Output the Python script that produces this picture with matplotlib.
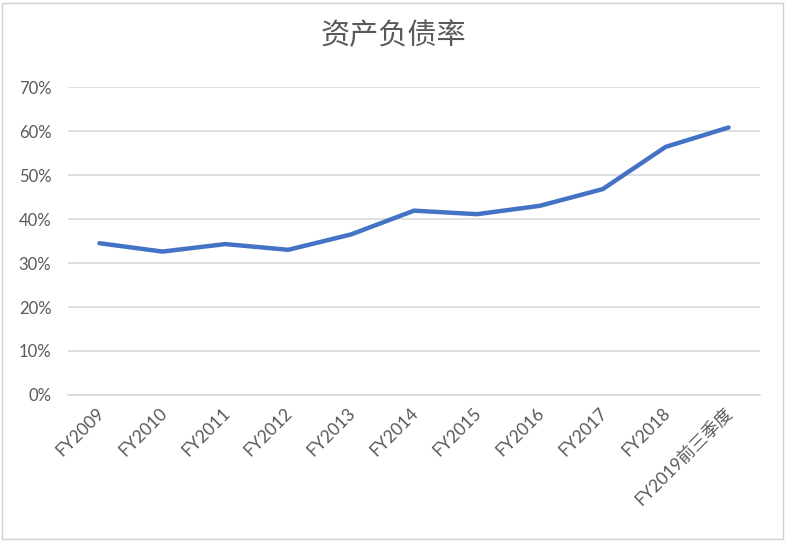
import matplotlib.pyplot as plt
from matplotlib.patches import Rectangle
from matplotlib.ticker import FuncFormatter
import matplotlib.transforms as mtransforms


plt.rcParams["font.family"] = ["Lato", "Noto Sans CJK SC", "DejaVu Sans"]

TITLE = "资产负债率"

periods = [
    "FY2009",
    "FY2010",
    "FY2011",
    "FY2012",
    "FY2013",
    "FY2014",
    "FY2015",
    "FY2016",
    "FY2017",
    "FY2018",
    "FY2019前三季度",
]

debt_ratio = [
    0.345,
    0.326,
    0.343,
    0.330,
    0.365,
    0.419,
    0.411,
    0.430,
    0.468,
    0.564,
    0.608,
]

y_ticks = [0.0, 0.1, 0.2, 0.3, 0.4, 0.5, 0.6, 0.7]

LINE_COLOR = "#4472C4"
TEXT_COLOR = "#595959"
GRID_COLOR = "#D9D9D9"


def main():
    fig = plt.figure(figsize=(7.87, 5.41), dpi=100)
    ax = fig.add_axes([0.0864, 0.2699, 0.8793, 0.5692])

    positions = list(range(len(periods)))

    ax.plot(
        positions,
        debt_ratio,
        color=LINE_COLOR,
        linewidth=3.2,
        solid_joinstyle="round",
        solid_capstyle="round",
        zorder=3,
    )

    ax.set_xlim(-0.5, len(periods) - 0.5)
    ax.set_ylim(0, 0.7)
    ax.set_yticks(y_ticks)
    ax.yaxis.set_major_formatter(FuncFormatter(lambda v, _: f"{v * 100:.0f}%"))
    ax.grid(True, axis="y", color=GRID_COLOR, linewidth=1.2)
    ax.set_axisbelow(True)

    for side in ["top", "right", "left"]:
        ax.spines[side].set_visible(False)
    ax.spines["bottom"].set_color(GRID_COLOR)
    ax.spines["bottom"].set_linewidth(1.2)

    ax.tick_params(axis="y", length=0, pad=12, labelsize=12, labelcolor=TEXT_COLOR)
    ax.tick_params(axis="x", length=0, pad=4, labelsize=12.5, labelcolor=TEXT_COLOR)

    ax.set_xticks(positions)
    ax.set_xticklabels(periods, rotation=45, ha="right", va="center",
                       rotation_mode="anchor")
    offset = mtransforms.ScaledTranslation(0.02, -0.1, fig.dpi_scale_trans)
    for label in ax.get_xticklabels():
        label.set_transform(label.get_transform() + offset)

    fig.text(0.5, 0.935, TITLE, ha="center", va="center",
             fontsize=21, color=TEXT_COLOR)

    fig.patches.append(Rectangle((0.002, 0.004), 0.993, 0.99,
                                 transform=fig.transFigure, fill=False,
                                 edgecolor="#D0D0D0", linewidth=1.0))

    fig.savefig("out.png", dpi=100)
    plt.close(fig)


if __name__ == "__main__":
    main()
